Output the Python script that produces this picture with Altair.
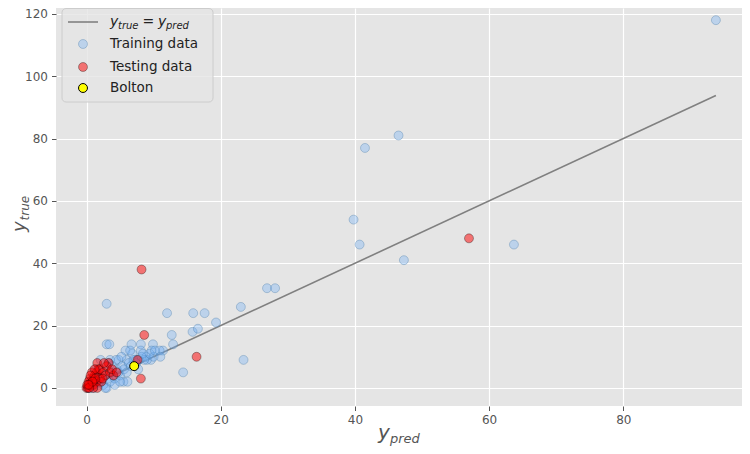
import altair as alt
import pandas as pd

# ---------------- data ----------------
train_pred = [93.8, 46.5, 41.5, 39.8, 40.7, 47.3, 63.7, 26.9, 28.1, 23.0,
              23.4, 12.0, 15.9, 17.6, 19.3, 15.8, 16.6, 12.7, 12.9, 14.4,
              3.0, 9.9, 8.1, 6.7, 3.0, 11.4, 9.7, 8.1, 5.8, 10.9,
              9.6, 8.9, 4.8, 6.0, 7.3, 9.0, 7.7, 5.5, 6.1, 3.0,
              2.1, 3.5, 6.8, 10.0,
              0.2, 0.5, 0.8, 1.0, 1.2, 1.5, 1.8, 2.0, 2.3, 2.5,
              2.8, 3.2, 3.5, 3.8, 4.0, 4.2, 4.5, 4.8, 5.0, 5.3,
              5.6, 6.0, 6.3, 6.6, 7.0, 7.4, 7.8, 8.2, 8.6,
              1.0, 1.6, 2.4, 3.3, 4.4, 5.2, 6.5, 4.2, 5.0, 2.8,
              9.4, 10.2, 8.4, 1.4, 0.6, 3.8, 11.0, 3.4]
train_true = [118, 81, 77, 54, 46, 41, 46, 32, 32, 26,
              9, 24, 24, 24, 21, 18, 19, 17, 14, 5,
              27, 14, 14, 14, 14, 12, 12, 12, 12, 12,
              9, 10, 9, 9, 9, 9, 6, 2, 2, 0,
              9, 9, 11, 10,
              0, 0, 1, 0, 1, 2, 1, 2, 3, 1,
              4, 3, 2, 5, 4, 3, 6, 5, 4, 7,
              6, 5, 8, 7, 9, 8, 9, 10, 9,
              3, 4, 6, 8, 9, 10, 12, 1, 2, 0,
              11, 12, 11, 6, 2, 7, 10, 14]

test_pred = [57.0, 8.2, 8.6, 16.4, 8.1, 7.6, 1.6, 3.3, 0.0, 0.2,
             0.5, 0.8, 1.0, 1.2, 1.5, 1.8, 2.0, 2.5, 2.8, 3.0,
             0.5, 0.3, 1.0, 1.5, 2.0, 0.8, 1.2, 3.5, 4.0, 2.2,
             0.1, 0.6, 1.6, 1.0, 0.4, 2.4, 3.8, 4.5, 2.6, 1.3,
             0.9, 0.3]
test_true = [48, 38, 17, 10, 3, 9, 8, 8, 0, 0,
             1, 2, 3, 4, 5, 6, 6, 5, 4, 7,
             3, 2, 1, 2, 3, 5, 6, 5, 4, 2,
             1, 4, 0, 0, 0, 3, 6, 5, 8, 3,
             2, 1]

bolton_pred = [7.1]
bolton_true = [7]

line_pred = [0.0, 93.8]
line_true = [0.0, 93.8]

x_ticks = [0, 20, 40, 60, 80]
y_ticks = [0, 20, 40, 60, 80, 100, 120]

legend_labels = ["Training data", "Testing data", "Bolton"]

# ---------------- tables ----------------
train_df = pd.DataFrame({"pred": train_pred, "true": train_true})
test_df = pd.DataFrame({"pred": test_pred, "true": test_true})
bolton_df = pd.DataFrame({"pred": bolton_pred, "true": bolton_true})
line_df = pd.DataFrame({"pred": line_pred, "true": line_true})
dummy = pd.DataFrame({"d": [0]})

FONT = "DejaVu Sans"
xs = alt.Scale(domain=[-4.55, 97.69], nice=False, zero=False)
ys = alt.Scale(domain=[-5.79, 121.9], nice=False, zero=False)

axis_common = dict(title=None, grid=True, gridColor="white", gridWidth=1.2,
                   domain=False, tickColor="#555555", tickSize=4.5, tickWidth=1,
                   labelColor="#555555", labelFontSize=12, labelFont=FONT,
                   labelPadding=4)
X = alt.X("pred:Q", scale=xs, axis=alt.Axis(values=x_ticks, **axis_common))
Y = alt.Y("true:Q", scale=ys, axis=alt.Axis(values=y_ticks, **axis_common))

TRAIN_FILL = "#6FAEF5"
TEST_FILL = "#FF0000"
SIZE = 80

line = alt.Chart(line_df).mark_line(color="#808080", strokeWidth=1.6).encode(x=X, y=Y)
train = alt.Chart(train_df).mark_circle(
    size=SIZE, color=TRAIN_FILL, fillOpacity=0.35, stroke="#4a7aa8",
    strokeOpacity=0.45, strokeWidth=0.8).encode(x=X, y=Y)
test = alt.Chart(test_df).mark_circle(
    size=SIZE, color=TEST_FILL, fillOpacity=0.5, stroke="#000000",
    strokeOpacity=0.4, strokeWidth=0.8).encode(x=X, y=Y)
bolton = alt.Chart(bolton_df).mark_circle(
    size=SIZE, color="#FFFF00", opacity=1, stroke="#000000",
    strokeWidth=1).encode(x=X, y=Y)


def txt(s, x, y, size, italic=False, color="#222222", angle=0, baseline="alphabetic"):
    kw = dict(text=s, fontSize=size, font=FONT, align="left", baseline=baseline,
              color=color, fontStyle="italic" if italic else "normal")
    if angle:
        kw["angle"] = angle
    return alt.Chart(dummy).mark_text(**kw).encode(x=alt.value(x), y=alt.value(y))


# axis titles (math-style subscripts)
TITLE_C = "#555555"
x_title = [txt("y", 322, 431, 20, True, TITLE_C), txt("pred", 334, 434.5, 13, True, TITLE_C)]
y_title = [txt("y", -31, 224, 18, True, TITLE_C, angle=270),
           txt("true", -27.5, 212.5, 12, True, TITLE_C, angle=270)]

# legend
leg_box = alt.Chart(dummy).mark_rect(
    fill="#E5E5E5", fillOpacity=0.8, stroke="#CCCCCC", strokeWidth=1, cornerRadius=4
).encode(x=alt.value(6), x2=alt.value(157), y=alt.value(0.5), y2=alt.value(94))
leg_line = alt.Chart(dummy).mark_rule(color="#808080", strokeWidth=1.6).encode(
    x=alt.value(12), x2=alt.value(42), y=alt.value(14))
leg_math = [txt("y", 54, 18, 14, True), txt("true", 62, 21, 10, True),
            txt("=", 86.5, 18, 14), txt("y", 102, 18, 14, True), txt("pred", 110, 21, 10, True)]
leg_pts = [
    alt.Chart(dummy).mark_circle(size=SIZE, color=TRAIN_FILL, fillOpacity=0.35,
                                 stroke="#4a7aa8", strokeOpacity=0.45, strokeWidth=0.8
                                 ).encode(x=alt.value(27), y=alt.value(36)),
    alt.Chart(dummy).mark_circle(size=SIZE, color=TEST_FILL, fillOpacity=0.5,
                                 stroke="#000000", strokeOpacity=0.4, strokeWidth=0.8
                                 ).encode(x=alt.value(27), y=alt.value(59)),
    alt.Chart(dummy).mark_circle(size=SIZE, color="#FFFF00", opacity=1,
                                 stroke="#000000", strokeWidth=1
                                 ).encode(x=alt.value(27), y=alt.value(80)),
]
leg_text = [txt(legend_labels[0], 54, 36, 13.5, baseline="middle"),
            txt(legend_labels[1], 54, 59, 13.5, baseline="middle"),
            txt(legend_labels[2], 54, 80, 13.5, baseline="middle")]

chart = alt.layer(
    line, train, test, bolton, *x_title, *y_title,
    leg_box, leg_line, *leg_math, *leg_pts, *leg_text
).properties(
    width=686, height=398,
    padding={"left": 48, "top": 0, "right": 0, "bottom": 40},
    autosize=alt.AutoSizeParams(type="none"),
).configure_view(fill="#E5E5E5", stroke=None)

chart.save("out.html", embed_options={"renderer": "svg", "actions": False})
